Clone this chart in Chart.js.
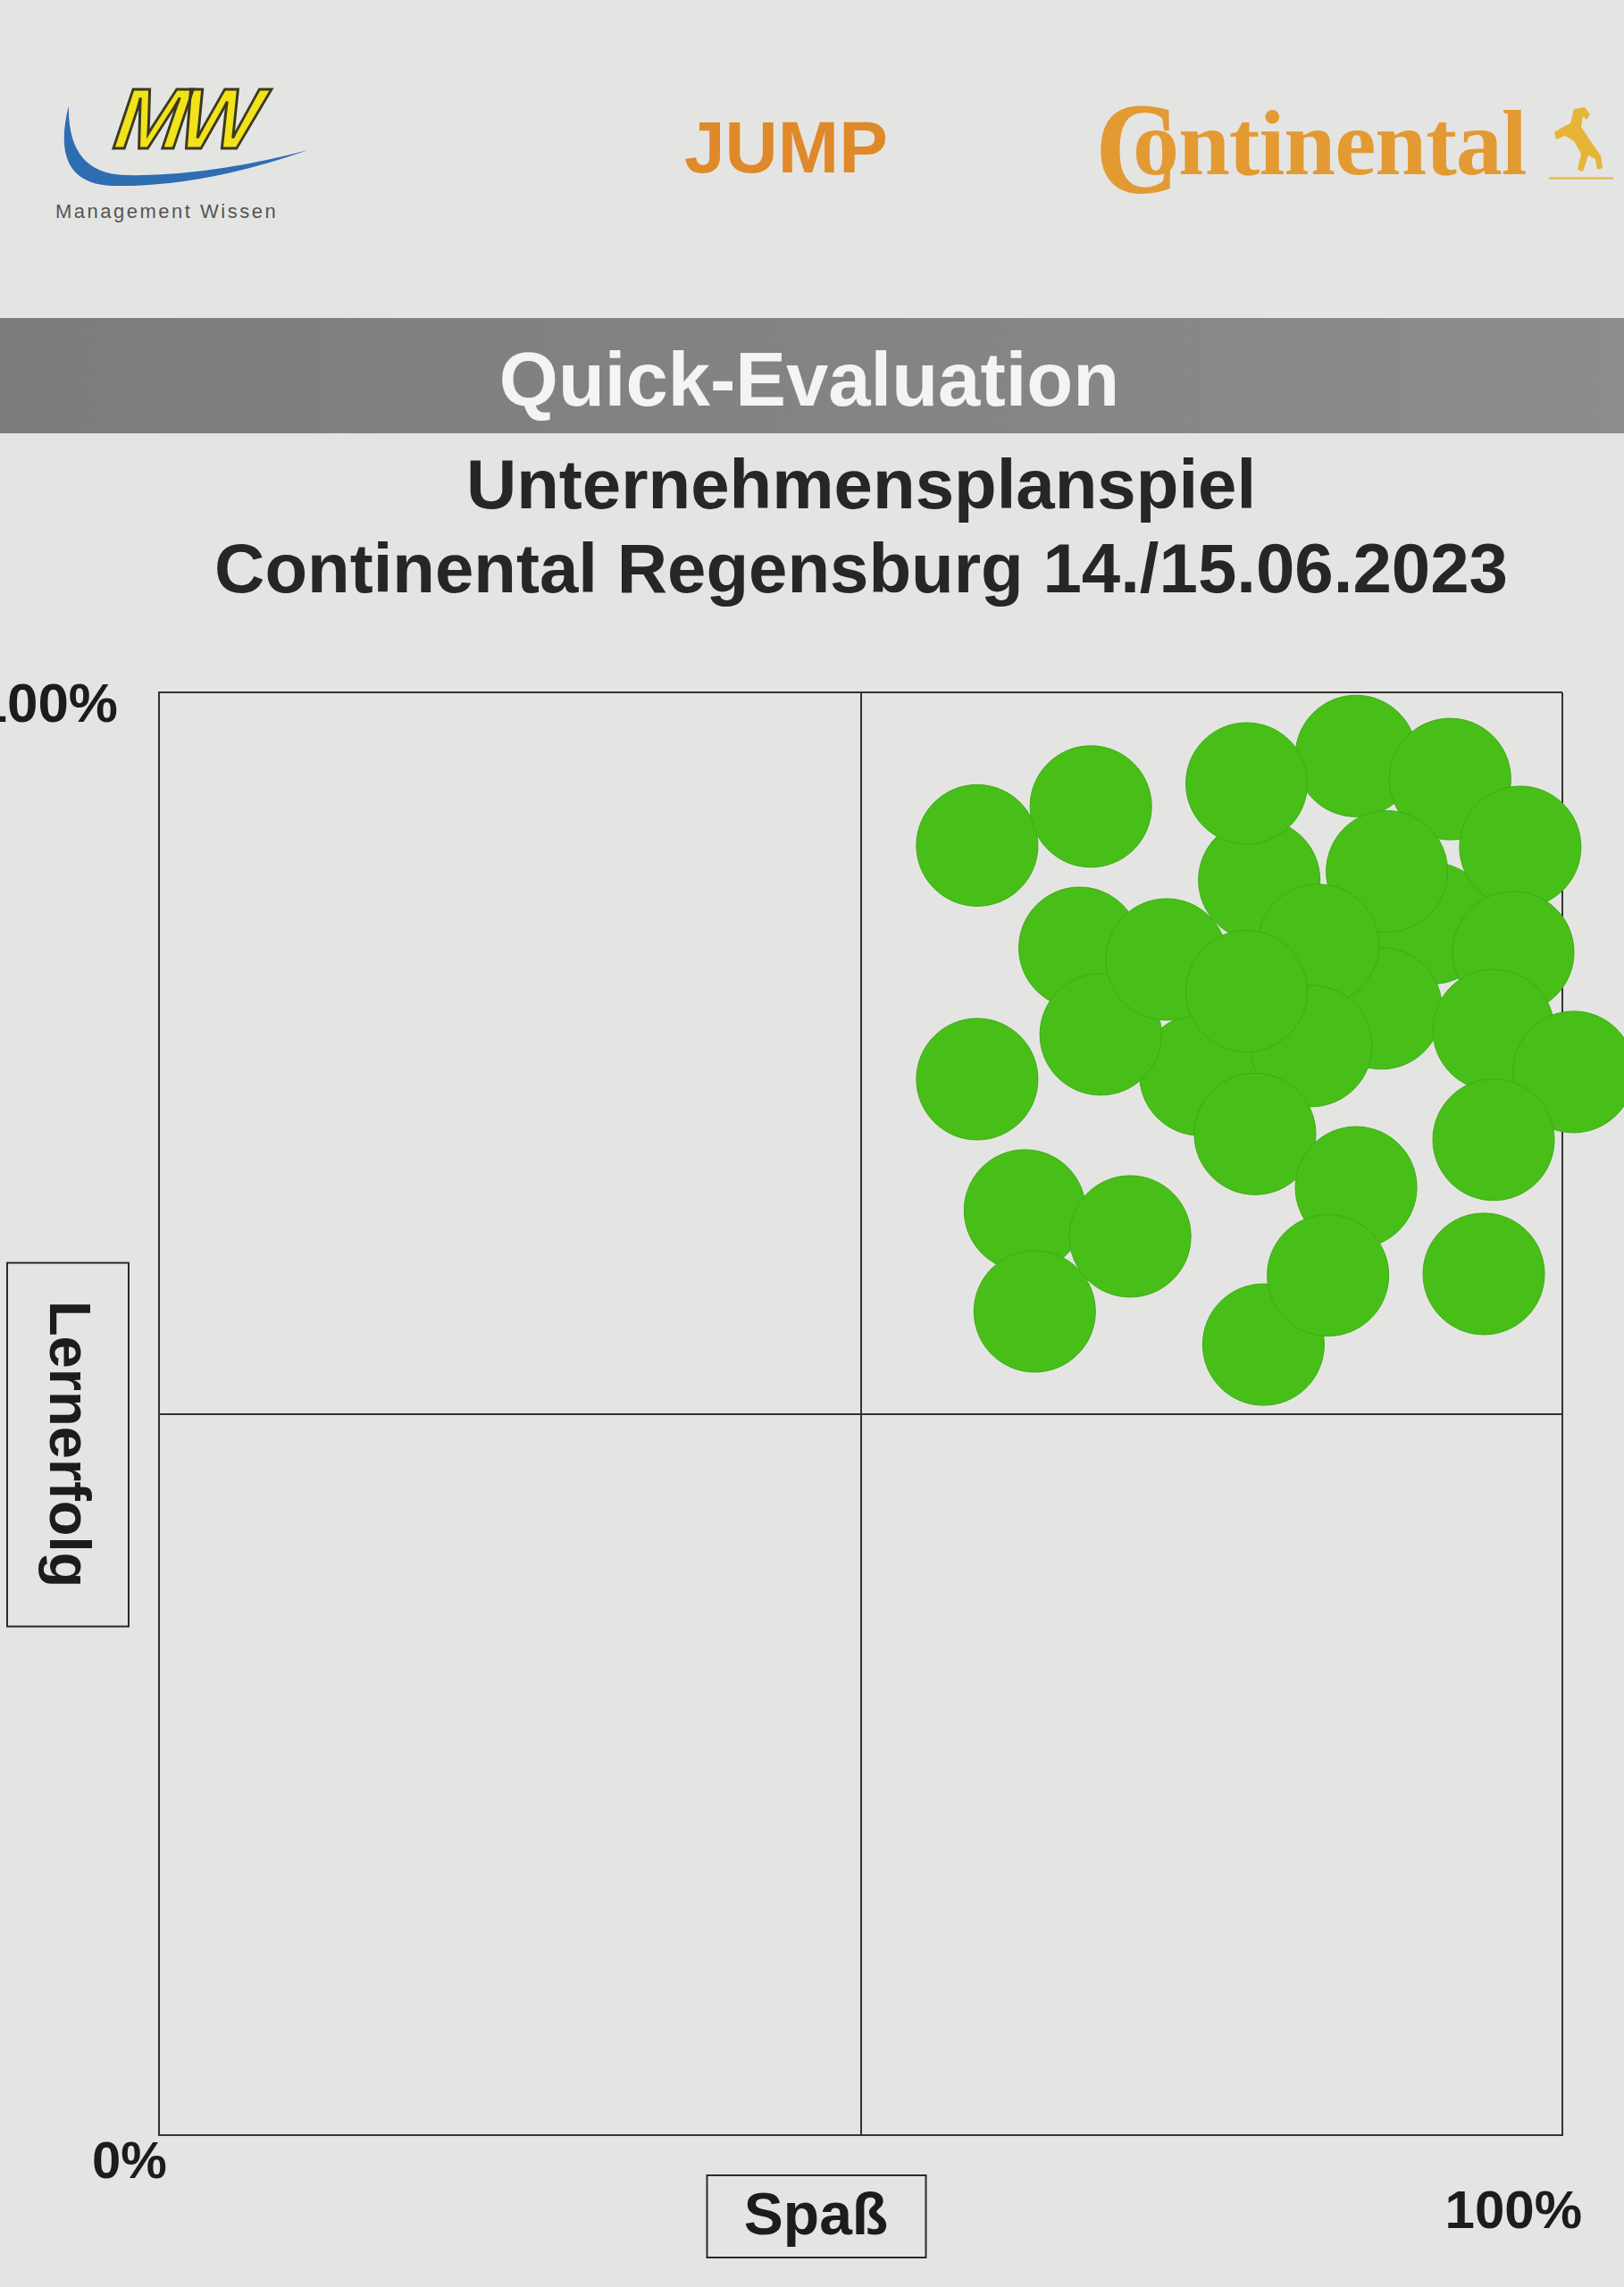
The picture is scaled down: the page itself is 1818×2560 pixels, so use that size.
<!doctype html>
<html lang="de">
  <head>
    <meta charset="utf-8">
    <title>Quick-Evaluation</title>
    <script src="https://cdn.jsdelivr.net/npm/chart.js"></script>
    <style>
      body { margin: 0; background: #e4e5e3; font-family: "Liberation Sans", Arial, sans-serif; }
      .page { position: relative; width: 1818px; height: 2560px; overflow: hidden; background: #e4e5e3; }
      .mw { position: absolute; left: 130px; top: 78px; font: italic bold 96px "Liberation Sans", Arial, sans-serif; color: #f2e21a; -webkit-text-stroke: 3px #3a3a20; letter-spacing: -8px; transform: skewX(-8deg); }
      .swoosh { position: absolute; left: 55px; top: 110px; }
      .mw-sub { position: absolute; left: 62px; top: 224px; font-size: 22px; letter-spacing: 2.5px; color: #555; }
      .jump { position: absolute; left: 766px; top: 118px; font-weight: bold; font-size: 82px; color: #e0892a; }
      .conti-c { position: absolute; left: 1226px; top: 92px; font: bold 130px "Liberation Serif", "DejaVu Serif", serif; color: #e39a33; transform: scaleY(1.12); }
      .conti { position: absolute; left: 1268px; top: 100px; font: bold 104px "Liberation Serif", "DejaVu Serif", serif; color: #e39a33; letter-spacing: -1px; }
      .horse { position: absolute; left: 1732px; top: 118px; }
      .band { position: absolute; left: 0; top: 356px; width: 1818px; height: 129px; background: linear-gradient(90deg, #7c7c7c, #858585 60%, #8c8c8c); }
      .band span { position: absolute; left: 0; width: 1812px; top: 20px; text-align: center; font-weight: bold; font-size: 85px; color: #f4f4f4; }
      .chart-box { position: absolute; left: 0; top: 485px; width: 1818px; height: 2075px; }
    </style>
  </head>
  <body>
    <div class="page">
      <svg class="swoosh" width="300" height="110" viewBox="0 0 300 110">
        <path d="M 22 8 Q 0 95 70 98 Q 170 100 290 58 Q 175 88 85 86 Q 20 84 22 8 Z" fill="#2f6db3"/>
      </svg>
      <div class="mw">MW</div>
      <div class="mw-sub">Management Wissen</div>
      <div class="jump">JUMP</div>
      <div class="conti-c">C</div>
      <div class="conti">ontinental</div>
      <svg class="horse" width="75" height="90" viewBox="0 0 75 90">
        <path d="M 30 4 L 42 2 L 48 10 L 44 16 L 40 12 L 38 24 L 50 42 L 60 56 L 62 70 L 56 72 L 54 60 L 46 56 L 40 74 L 34 72 L 38 54 L 30 40 L 20 34 L 10 38 L 8 30 L 18 24 L 26 20 Z" fill="#e6b436"/>
        <rect x="2" y="80" width="72" height="3" fill="#e6c45a"/>
      </svg>
      <div class="band"><span>Quick-Evaluation</span></div>
      <div class="chart-box"><canvas id="quickEval"></canvas></div>
    </div>
    <script>
      // one sticker per participant: x = Spaß (%), y = Lernerfolg (%)
      const spass = [78.4, 90.7, 87.1, 74.2, 65.6, 67.1, 85.3, 77.5, 92.0, 97.0,
                     87.5, 58.3, 66.4, 71.8, 82.6, 96.5, 95.1, 82.1, 77.5, 100.8,
                     58.3, 78.1, 95.1, 85.3, 61.7, 69.2, 62.4, 78.7, 83.3, 94.4];
      const lernerfolg = [87.0, 84.0, 78.1, 73.5, 82.3, 76.3, 95.6, 93.7, 94.0, 89.3,
                          87.6, 89.4, 92.1, 81.5, 82.5, 82.0, 76.6, 75.5, 79.3, 73.7,
                          73.2, 69.4, 69.0, 65.7, 64.1, 62.3, 57.1, 54.8, 59.6, 59.7];
      const xTickLabels = ['0%', '100%'];
      const yTickLabels = ['100%'];
      const xTitle = 'Spaß';
      const yTitle = 'Lernerfolg';
      const titleLines = ['Unternehmensplanspiel', 'Continental Regensburg 14./15.06.2023'];

      const points = spass.map((v, i) => ({ x: v, y: lernerfolg[i] }));

      // corner labels and boxed axis names
      const axisLabels = {
        id: 'axisLabels',
        afterDraw(chart) {
          const { ctx, chartArea: a, scales: { x, y } } = chart;
          ctx.save();
          ctx.fillStyle = '#1c1c1c';
          ctx.strokeStyle = '#2a2a2a';
          ctx.lineWidth = 2;
          ctx.textBaseline = 'middle';
          ctx.font = 'bold 62px "Liberation Sans", Arial, sans-serif';
          ctx.textAlign = 'right';
          ctx.fillText(yTickLabels[0], a.left - 46, y.getPixelForValue(100) + 16);
          ctx.font = 'bold 58px "Liberation Sans", Arial, sans-serif';
          ctx.textAlign = 'center';
          ctx.fillText(xTickLabels[0], x.getPixelForValue(0) - 33, a.bottom + 32);
          ctx.font = 'bold 60px "Liberation Sans", Arial, sans-serif';
          ctx.textAlign = 'right';
          ctx.fillText(xTickLabels[1], x.getPixelForValue(100) + 22, a.bottom + 87);

          // Spaß box
          const sx = x.getPixelForValue(50) - 50, sy = a.bottom + 91;
          ctx.strokeRect(sx - 122, sy - 46, 245, 92);
          ctx.font = 'bold 66px "Liberation Sans", Arial, sans-serif';
          ctx.textAlign = 'center';
          ctx.fillText(xTitle, sx, sy + 2);

          // Lernerfolg box, text reads top to bottom
          const lx = 76, ly = y.getPixelForValue(50) + 34;
          ctx.strokeRect(lx - 68, ly - 203, 136, 407);
          ctx.translate(lx, ly);
          ctx.rotate(Math.PI / 2);
          ctx.font = 'bold 65px "Liberation Sans", Arial, sans-serif';
          ctx.fillText(yTitle, 0, 2);
          ctx.restore();
        }
      };

      new Chart(document.getElementById('quickEval'), {
        type: 'scatter',
        data: {
          datasets: [{
            data: points,
            backgroundColor: '#48bf18',
            borderColor: '#3daa14',
            borderWidth: 1,
            pointRadius: 68,
            pointHoverRadius: 68,
            clip: false
          }]
        },
        options: {
          responsive: true,
          maintainAspectRatio: false,
          animation: false,
          layout: { padding: { left: 178, right: 68, top: 0, bottom: 170 } },
          plugins: {
            legend: { display: false },
            tooltip: { enabled: false },
            title: {
              display: true,
              text: titleLines,
              color: '#262626',
              font: { family: '"Liberation Sans", Arial, sans-serif', size: 78, weight: 'bold', lineHeight: 1.2 },
              padding: { top: 16, bottom: 87 }
            }
          },
          scales: {
            x: {
              min: 0, max: 100,
              ticks: { display: false, stepSize: 50 },
              grid: { color: '#333', lineWidth: 2, drawTicks: false },
              border: { color: '#333', width: 2 }
            },
            y: {
              min: 0, max: 100,
              ticks: { display: false, stepSize: 50 },
              grid: { color: '#333', lineWidth: 2, drawTicks: false },
              border: { color: '#333', width: 2 }
            }
          }
        },
        plugins: [axisLabels]
      });
    </script>
  </body>
</html>
